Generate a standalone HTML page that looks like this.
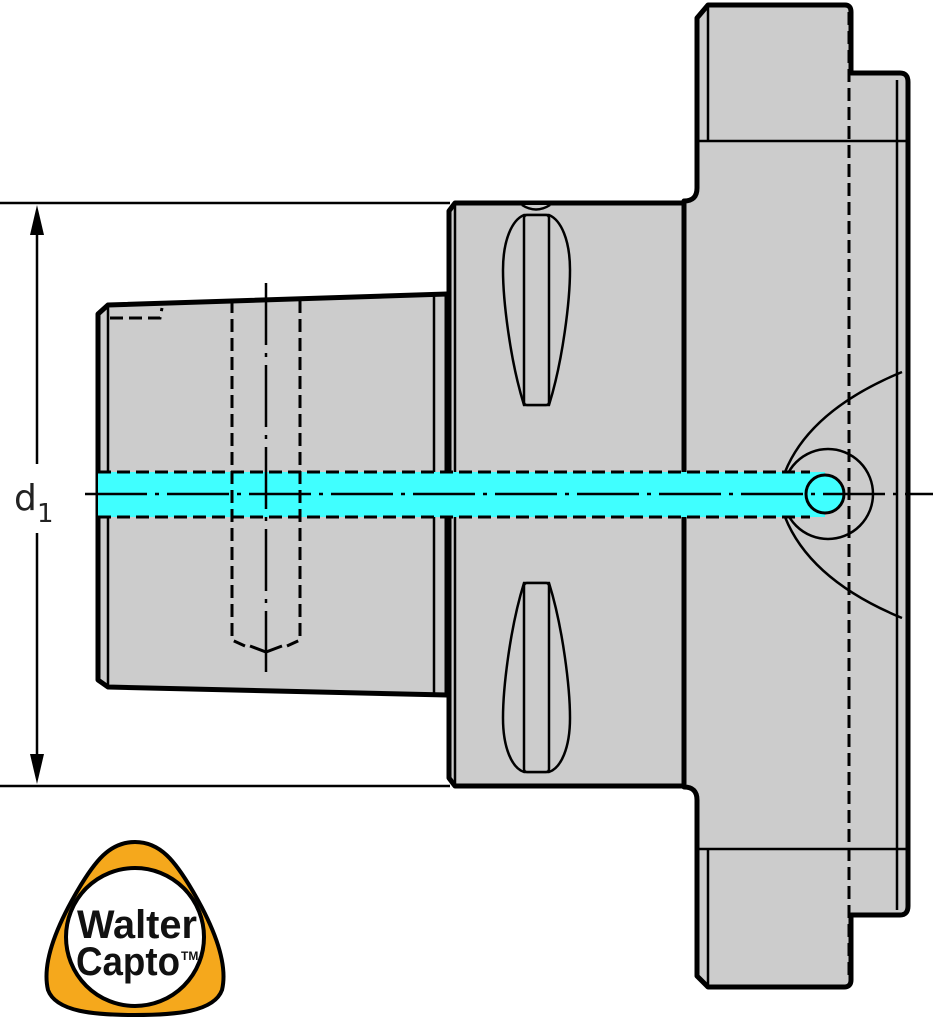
<!DOCTYPE html>
<html><head><meta charset="utf-8"><style>
html,body{margin:0;padding:0;background:#fff;}
svg{display:block;}
</style></head><body>
<svg width="933" height="1024" viewBox="0 0 933 1024" xmlns="http://www.w3.org/2000/svg">
<g fill="#cccccc" stroke="#000" stroke-linejoin="round">
<!-- right flange -->
<path d="M697,18 L708,5 L845,5 Q851,5 851,12 L851,73 L900,73 Q908,73 908,82 L908,906 Q908,915 900,915 L851,915 L851,980 Q851,987 844,987 L708,987 L697,976 L697,800 Q697,787 684,787 L684,201 Q697,201 697,188 Z" stroke-width="5"/>
<!-- middle flange -->
<path d="M449,211 L455,203 L684,203 L684,786 L455,786 L449,778 Z" stroke-width="5"/>
<!-- shank -->
<path d="M98,314 L108,305 L447,294 L447,695 L108,687 L98,680 Z" stroke-width="5"/>
</g>
<g fill="none" stroke="#000" stroke-width="2.5">
<line x1="708" y1="5" x2="708" y2="141"/>
<line x1="697" y1="141" x2="908" y2="141"/>
<line x1="897" y1="80" x2="897" y2="910"/>
<line x1="697" y1="849" x2="908" y2="849"/>
<line x1="708" y1="849" x2="708" y2="987"/>
<line x1="683" y1="203" x2="683" y2="786"/>
<line x1="455" y1="203" x2="455" y2="786"/>
<line x1="434" y1="296" x2="434" y2="693"/>
<line x1="108" y1="305" x2="108" y2="687"/>
<!-- dimension -->
<line x1="0" y1="203" x2="450" y2="203"/>
<line x1="0" y1="786" x2="450" y2="786"/>
<line x1="37" y1="225" x2="37" y2="464"/>
<line x1="37" y1="533" x2="37" y2="765"/>
</g>
<polygon points="37,205 30,235 44,235" fill="#000"/>
<polygon points="37,784 30,754 44,754" fill="#000"/>
<text x="14" y="510" font-family="DejaVu Sans, Liberation Sans, sans-serif" font-size="36" fill="#222">d</text>
<text x="37" y="522" font-family="DejaVu Sans, Liberation Sans, sans-serif" font-size="26" fill="#222">1</text>
<!-- slots -->
<g fill="#cccccc" stroke="#000" stroke-width="2.5">
<path d="M524,405 C510,360 503,300 503,270 C503,240 512,220 524,215 L549,215 C561,220 570,240 570,270 C570,300 563,360 549,405 Z"/>
<rect x="524" y="215" width="25" height="190" rx="3"/>
<path d="M524,583 C510,628 503,688 503,718 C503,748 512,768 524,772 L549,772 C561,768 570,748 570,718 C570,688 563,628 549,583 Z"/>
<rect x="524" y="583" width="25" height="189" rx="3"/>
<path d="M522,205 Q536,214 550,205"/>
</g>
<!-- arcs near right -->
<g fill="none" stroke="#000" stroke-width="2.5">
<path d="M902,372 Q810,410 785,472"/>
<path d="M785,517 Q810,580 902,618"/>
<circle cx="828" cy="494" r="45"/>
</g>
<!-- cyan channel -->
<rect x="98" y="472" width="727" height="45" fill="#40ffff"/>
<circle cx="825" cy="494" r="19" fill="#40ffff" stroke="#000" stroke-width="3"/>
<g fill="none" stroke="#000" stroke-width="3" stroke-dasharray="13,6">
<line x1="98" y1="472" x2="810" y2="472"/>
<line x1="98" y1="517" x2="810" y2="517"/>
<line x1="849" y1="12" x2="849" y2="980"/>
<path d="M232,300 L232,640 L245,646 M300,300 L300,640 L287,646"/>
<path d="M110,318 L160,318 L162,308"/>
</g>
<path d="M250,646 L266,652 L282,646" fill="none" stroke="#000" stroke-width="3"/>
<g fill="none" stroke="#000" stroke-width="2.5" stroke-dasharray="62,8,4,8">
<line x1="85" y1="494" x2="933" y2="494"/>
<line x1="266" y1="283" x2="266" y2="672"/>
</g>
<!-- logo -->
<path d="M135,842 C160,842 175,860 195,895 C215,930 228,965 222,990 C214,1012 175,1015 135,1015 C95,1015 56,1012 48,990 C42,965 55,930 75,895 C95,860 110,842 135,842 Z" fill="#f5a81c" stroke="#000" stroke-width="4"/>
<circle cx="135" cy="937" r="69" fill="#fff" stroke="#000" stroke-width="4"/>
<text x="137" y="938" text-anchor="middle" font-family="Liberation Sans, DejaVu Sans, sans-serif" font-weight="bold" font-size="40" fill="#111" textLength="120" lengthAdjust="spacingAndGlyphs">Walter</text>
<text x="128" y="975" text-anchor="middle" font-family="Liberation Sans, DejaVu Sans, sans-serif" font-weight="bold" font-size="40" fill="#111" textLength="104" lengthAdjust="spacingAndGlyphs">Capto</text>
<text x="181" y="960" font-family="Liberation Sans, sans-serif" font-weight="bold" font-size="12" fill="#111">TM</text>
</svg>
</body></html>
